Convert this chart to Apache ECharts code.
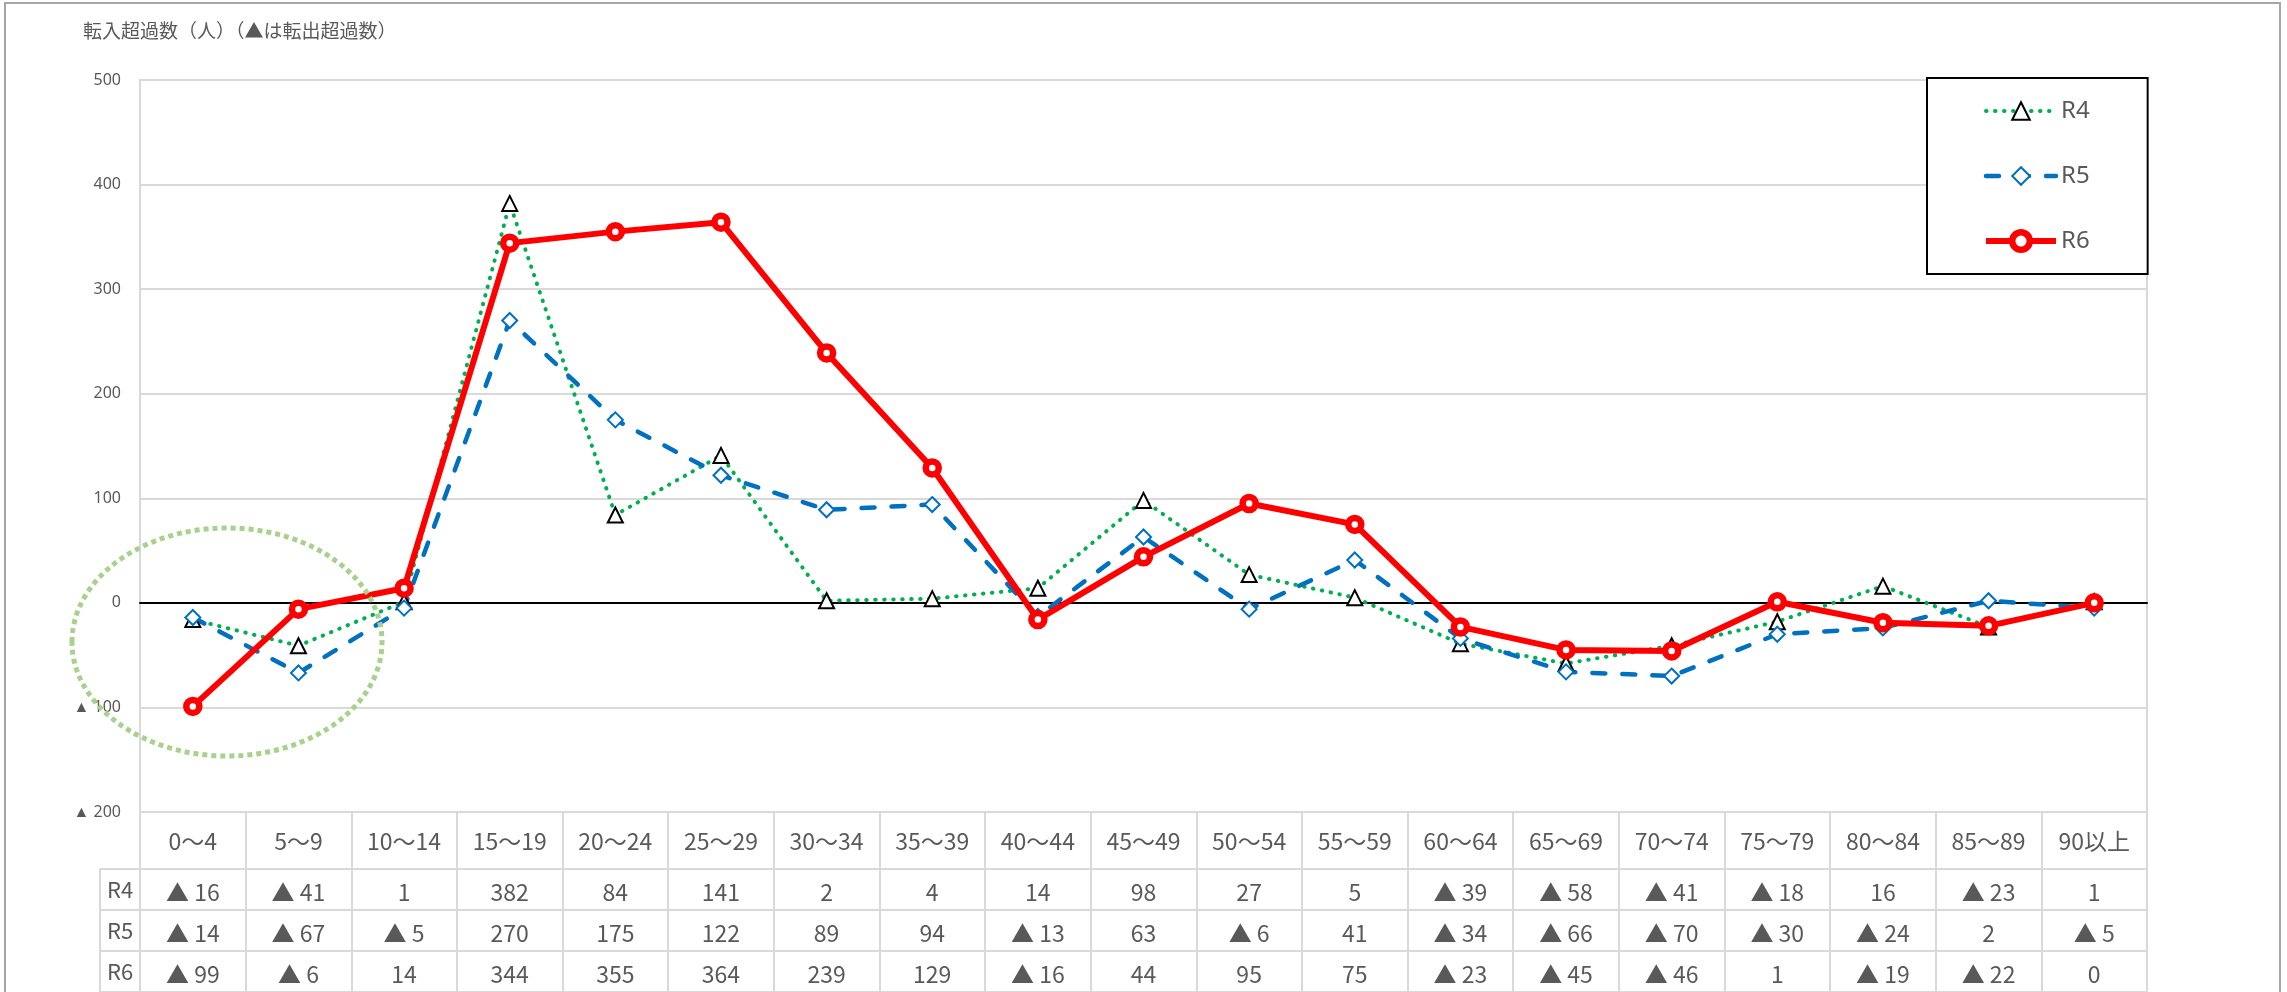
<!DOCTYPE html>
<html>
<head>
<meta charset="utf-8">
<script src="https://cdn.jsdelivr.net/npm/echarts@6/dist/echarts.min.js"></script>
<style>
  html, body { margin: 0; padding: 0; background: #fff; }
  #chart { width: 2287px; height: 992px; }
</style>
</head>
<body>
<div id="chart"></div>
<script>
const categories = ['0～4', '5～9', '10～14', '15～19', '20～24', '25～29', '30～34', '35～39', '40～44', '45～49',
  '50～54', '55～59', '60～64', '65～69', '70～74', '75～79', '80～84', '85～89', '90以上']
const r4 = [-16, -41, 1, 382, 84, 141, 2, 4, 14, 98, 27, 5, -39, -58, -41, -18, 16, -23, 1]
const r5 = [-14, -67, -5, 270, 175, 122, 89, 94, -13, 63, -6, 41, -34, -66, -70, -30, -24, 2, -5]
const r6 = [-99, -6, 14, 344, 355, 364, 239, 129, -16, 44, 95, 75, -23, -45, -46, 1, -19, -22, 0]
const rowNames = ['R4', 'R5', 'R6']

const gray = '#595959'
const lineGray = '#d9d9d9'
const tableFont = '"Liberation Sans Narrow", "Noto Sans CJK JP", sans-serif'
const fmt = v => v < 0 ? '▲ ' + Math.abs(v) : String(v)

// table cells: [category index, row index, text]
const tableCells = []
;[r4, r5, r6].forEach((arr, j) => {
  arr.forEach((v, i) => tableCells.push([i, j, fmt(v)]))
})

const chart = echarts.init(document.getElementById('chart'))
const option = {
  backgroundColor: '#fff',
  animation: false,
  title: {
    text: '転入超過数（人）（▲は転出超過数）',
    left: 78,
    top: 16,
    textStyle: {fontSize: 19, fontWeight: 'normal', color: gray, fontFamily: '"Noto Sans CJK JP", sans-serif'}
  },
  legend: {
    data: ['R4', 'R5', 'R6'],
    orient: 'vertical',
    left: 1927,
    top: 78,
    padding: [21, 58, 21, 56],
    itemWidth: 70,
    itemHeight: 22,
    itemGap: 41,
    borderColor: '#000',
    borderWidth: 2,
    backgroundColor: '#fff',
    lineStyle: {width: 'inherit'},
    itemStyle: {borderWidth: 'inherit'},
    textStyle: {fontSize: 24, color: gray, fontFamily: '"Noto Sans", sans-serif'}
  },
  grid: [
    {left: 140, right: 140, top: 80, height: 732, show: true, borderColor: lineGray, borderWidth: 2},
    {left: 140, right: 140, top: 812, height: 57, show: true, borderColor: lineGray, borderWidth: 2},
    {left: 140, right: 140, top: 869, height: 126, show: true, borderColor: lineGray, borderWidth: 2}
  ],
  xAxis: [
    {
      type: 'category', gridIndex: 0, data: categories, boundaryGap: true,
      axisLine: {onZero: true, lineStyle: {color: '#000', width: 2}},
      axisTick: {show: false}, axisLabel: {show: false}, splitLine: {show: false}
    },
    {
      type: 'category', gridIndex: 1, data: categories, boundaryGap: true,
      axisLine: {show: false}, axisTick: {show: false},
      axisLabel: {interval: 0, margin: -28, verticalAlign: 'middle', fontSize: 23, color: gray, fontFamily: tableFont},
      splitLine: {show: true, interval: 0, lineStyle: {color: lineGray, width: 2}}
    },
    {
      type: 'category', gridIndex: 2, data: categories, boundaryGap: true,
      axisLine: {show: false}, axisTick: {show: false}, axisLabel: {show: false},
      splitLine: {show: true, interval: 0, lineStyle: {color: lineGray, width: 2}}
    }
  ],
  yAxis: [
    {
      type: 'value', gridIndex: 0, min: -200, max: 500, interval: 100,
      axisLine: {show: false}, axisTick: {show: false},
      axisLabel: {formatter: fmt, fontSize: 16, color: gray, margin: 19, fontFamily: '"Noto Sans", sans-serif'},
      splitLine: {lineStyle: {color: lineGray, width: 2}}
    },
    {type: 'value', gridIndex: 1, show: false},
    {
      type: 'category', gridIndex: 2, data: rowNames, inverse: true, boundaryGap: true,
      axisLine: {show: true, lineStyle: {color: lineGray, width: 2}},
      axisTick: {show: true, interval: 0, length: 40, lineStyle: {color: lineGray, width: 2}},
      axisLabel: {interval: 0, align: 'center', margin: 20, fontSize: 22, color: gray, fontFamily: tableFont},
      splitLine: {show: true, interval: 0, lineStyle: {color: lineGray, width: 2}}
    },
    {
      type: 'category', gridIndex: 2, data: rowNames, inverse: true, position: 'left', offset: 40,
      axisLine: {show: true, lineStyle: {color: lineGray, width: 2}},
      axisTick: {show: false}, axisLabel: {show: false}, splitLine: {show: false}
    }
  ],
  series: [
    {
      name: 'R4', type: 'line', data: r4, xAxisIndex: 0, yAxisIndex: 0,
      symbol: 'triangle', symbolSize: 15, showAllSymbol: true,
      lineStyle: {color: '#00B050', width: 4, type: [0.5, 8.5], cap: 'round'},
      itemStyle: {color: '#fff', borderColor: '#000', borderWidth: 2}
    },
    {
      name: 'R5', type: 'line', data: r5, xAxisIndex: 0, yAxisIndex: 0,
      symbol: 'diamond', symbolSize: 15, showAllSymbol: true,
      lineStyle: {color: '#0070C0', width: 4.5, type: [13, 17], cap: 'round'},
      itemStyle: {color: '#fff', borderColor: '#0070C0', borderWidth: 2}
    },
    {
      name: 'R6', type: 'line', data: r6, xAxisIndex: 0, yAxisIndex: 0,
      symbol: 'circle', symbolSize: 13, showAllSymbol: true,
      lineStyle: {color: '#FF0000', width: 6},
      itemStyle: {color: '#fff', borderColor: '#FF0000', borderWidth: 6.5}
    },
    {
      type: 'custom', xAxisIndex: 2, yAxisIndex: 2, data: tableCells,
      encode: {x: 0, y: 1}, silent: true,
      renderItem: (params, api) => {
        const p = api.coord([api.value(0), api.value(1)])
        return {
          type: 'text', x: p[0], y: p[1] + 3,
          style: {
            text: tableCells[params.dataIndex][2], align: 'center', verticalAlign: 'middle',
            fill: gray, fontSize: 23, fontFamily: tableFont
          }
        }
      }
    }
  ],
  graphic: [
    {type: 'rect', shape: {x: 5, y: 3, width: 2275, height: 1000}, style: {fill: 'none', stroke: '#a6a6a6', lineWidth: 2}, z: 0},
    {type: 'ellipse', shape: {cx: 227, cy: 642, rx: 155, ry: 114}, style: {fill: 'none', stroke: '#A9D18E', lineWidth: 5, lineDash: [5, 4]}, z: 10}
  ]
}
chart.setOption(option)
</script>
</body>
</html>
